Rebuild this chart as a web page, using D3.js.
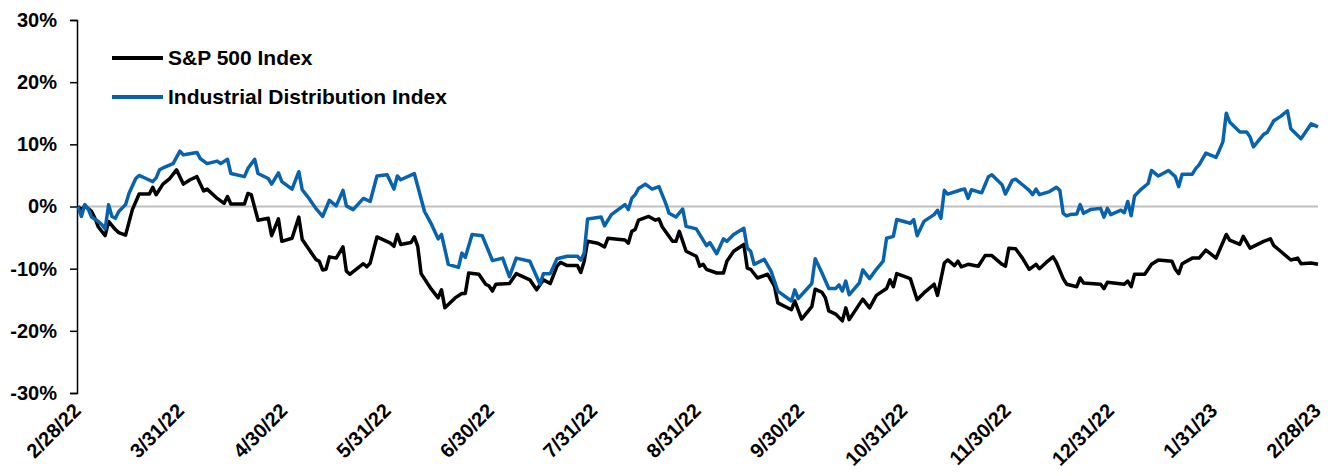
<!DOCTYPE html>
<html>
<head>
<meta charset="utf-8">
<script src="https://cdn.jsdelivr.net/npm/d3@7"></script>
<style>
  body { margin: 0; background: #fff; }
  svg text { font-family: "Liberation Sans", Arial, sans-serif; font-weight: bold; fill: #000; }
</style>
</head>
<body>
<svg id="chart"></svg>
<script>
// data: x = calendar days since 2/28/22, y = % change
const tickLabels = ["2/28/22", "3/31/22", "4/30/22", "5/31/22", "6/30/22", "7/31/22", "8/31/22",
  "9/30/22", "10/31/22", "11/30/22", "12/31/22", "1/31/23", "2/28/23"];
const yTicks = [-30, -20, -10, 0, 10, 20, 30];
const seriesNames = ["S&P 500 Index", "Industrial Distribution Index"];

const spDays = [0, 1, 2, 4, 5, 6, 8, 9, 11, 12, 14, 16, 18, 21, 22, 23, 25, 27, 29, 31, 33, 35, 37, 38, 41, 43, 44, 45, 49, 50,
  51, 53, 56, 57, 59, 60, 63, 65, 66, 70, 71, 72, 73, 74, 76, 78, 79, 80, 84, 85, 86, 88, 92, 93, 94, 95, 98, 99, 100, 101,
  104, 106, 107, 108, 111, 113, 114, 115, 118, 120, 121, 122, 123, 127, 129, 133, 135, 137, 139, 141, 142, 144, 147, 148, 149, 150, 153, 155, 156, 161,
  162, 163, 164, 165, 168, 170, 171, 172, 175, 176, 177, 179, 182, 183, 184, 185, 188, 190, 191, 193, 196, 197, 198, 200, 203, 205, 206, 210, 211, 213,
  216, 217, 219, 220, 221, 223, 225, 226, 227, 231, 233, 235, 238, 239, 240, 241, 245, 247, 249, 252, 253, 255, 256, 258, 259, 260, 262, 265, 267, 269,
  272, 273, 274, 276, 278, 280, 282, 283, 285, 287, 288, 290, 291, 294, 295, 296, 301, 302, 303, 308, 309, 310, 311, 314, 316, 318, 322, 323, 324, 325,
  328, 330, 332, 335, 338, 339, 342, 343, 345, 349, 351, 352, 354, 357, 359, 360, 363, 365];
const spValues = [0, -0.5, 0.1, -0.8, -1.9, -3.3, -4.7, -2.4, -3.7, -4.2, -4.6, -0.5, 2.0, 2.0, 3.1, 1.9, 3.6, 4.5, 5.9, 3.6, 4.3, 4.8, 2.5, 2.8, 1.3, 0.5, 1.6, 0.4, 0.4, 2.1,
  1.9, -2.2, -1.9, -4.7, -2.0, -5.6, -5.1, -1.7, -5.3, -8.5, -8.8, -10.2, -10.1, -8.1, -8.3, -6.5, -10.4, -10.9, -9.2, -9.7, -9.1, -4.9, -5.9, -6.4, -4.5, -6.1, -5.8, -4.9, -6.4, -10.8,
  -13.3, -14.7, -13.4, -16.3, -14.7, -14.0, -14.0, -10.7, -10.9, -12.5, -12.8, -13.6, -12.5, -12.4, -10.8, -11.8, -13.4, -11.8, -12.4, -9.6, -9.0, -9.5, -9.5, -10.6, -8.8, -5.6, -5.9, -6.5, -5.1, -5.4,
  -5.9, -4.0, -3.7, -2.2, -1.6, -2.2, -2.0, -3.3, -5.6, -5.6, -4.0, -7.2, -8.0, -9.6, -9.3, -10.1, -10.7, -10.7, -8.8, -7.2, -6.1, -9.9, -10.1, -11.5, -10.9, -12.8, -15.5, -16.6, -15.2, -18.1,
  -16.1, -13.3, -13.8, -14.7, -16.8, -17.3, -18.4, -16.3, -18.2, -14.9, -16.3, -14.3, -13.2, -11.8, -12.9, -10.8, -11.6, -15.0, -13.9, -12.5, -14.3, -9.1, -8.6, -9.5, -8.8, -9.7, -9.3, -9.6, -7.9, -7.9,
  -9.3, -9.6, -6.7, -6.8, -8.3, -10.1, -9.3, -10.0, -9.0, -8.1, -9.0, -11.6, -12.5, -12.9, -11.5, -12.3, -12.5, -13.2, -12.2, -12.5, -12.0, -12.9, -10.9, -10.9, -9.3, -8.6, -8.8, -10.1, -10.8, -9.2,
  -8.3, -8.3, -7.0, -8.3, -4.5, -5.4, -6.1, -4.8, -6.7, -5.6, -5.2, -6.3, -7.2, -8.6, -8.3, -9.2, -9.1, -9.3];

const indDays = [0, 1, 2, 3, 4, 6, 7, 8, 9, 10, 11, 12, 14, 15, 17, 18, 20, 22, 23, 24, 25, 28, 29, 30, 31, 32, 35, 36, 38, 41,
  42, 44, 45, 49, 50, 52, 53, 56, 57, 59, 60, 63, 65, 66, 68, 70, 72, 74, 76, 78, 79, 81, 84, 86, 88, 91, 93, 94, 95, 99,
  102, 104, 106, 107, 109, 112, 113, 114, 116, 119, 122, 125, 127, 129, 133, 136, 137, 139, 141, 144, 147, 148, 149, 150, 154, 155, 157, 161, 162, 163,
  164, 165, 167, 169, 171, 173, 174, 176, 178, 179, 182, 185, 186, 188, 190, 191, 193, 196, 197, 198, 199, 202, 204, 206, 210, 211, 212, 216, 217, 219,
  221, 223, 224, 225, 226, 227, 230, 231, 233, 235, 237, 238, 240, 241, 245, 246, 247, 249, 252, 253, 254, 255, 256, 260, 261, 262, 263, 266, 267, 268,
  269, 272, 273, 275, 276, 278, 280, 281, 282, 283, 286, 288, 289, 290, 291, 292, 294, 295, 296, 298, 301, 302, 303, 304, 307, 308, 309, 310, 311, 313,
  315, 316, 318, 321, 323, 324, 325, 328, 329, 330, 332, 335, 336, 337, 338, 339, 342, 344, 345, 346, 349, 350, 352, 354, 356, 357, 360, 363, 365];
const indValues = [0, -1.6, 0.3, -0.4, -1.7, -2.4, -2.9, -3.6, 0.3, -1.6, -1.9, -0.8, 0.3, 2.1, 4.5, 5.0, 4.5, 4.0, 4.6, 5.9, 6.2, 6.9, 7.9, 8.9, 8.3, 8.4, 8.7, 7.7, 6.9, 7.3,
  6.9, 7.6, 5.3, 4.8, 6.1, 7.6, 5.3, 4.5, 3.6, 5.4, 4.0, 2.8, 5.6, 2.7, 1.3, -0.3, -1.6, 1.0, 0.1, 2.6, 0.1, -0.5, 1.3, 0.8, 4.9, 5.1, 2.8, 4.9, 4.3, 5.3,
  -0.8, -2.8, -5.2, -4.5, -9.3, -9.8, -7.5, -8.2, -4.5, -4.7, -8.7, -8.3, -11.3, -8.3, -8.8, -12.5, -10.8, -10.8, -8.4, -8.0, -8.0, -8.6, -7.5, -2.0, -1.7, -3.1, -1.3, 0.3, -0.5, 1.3,
  1.9, 2.9, 3.6, 2.8, 3.2, 0.5, -1.1, -1.7, -0.4, -3.2, -3.6, -6.3, -5.8, -7.6, -5.2, -5.6, -4.5, -3.5, -6.7, -7.2, -9.3, -8.5, -10.4, -13.6, -15.2, -13.4, -14.8, -12.4, -8.4, -10.7,
  -13.2, -13.2, -12.6, -13.6, -12.0, -14.2, -12.3, -10.2, -11.6, -10.1, -8.8, -5.1, -4.8, -2.1, -2.7, -2.1, -4.7, -2.4, -1.3, -0.6, -1.9, 2.6, 2.0, 2.7, 2.8, 1.3, 2.7, 2.2, 3.5, 4.8,
  5.1, 3.5, 2.0, 4.2, 4.4, 3.5, 2.6, 1.9, 2.8, 1.9, 2.4, 3.1, 2.6, -1.1, -1.5, -1.3, -1.2, 0.3, -1.1, -0.5, -0.3, -1.7, -0.3, -1.3, -0.6, -1.0, 0.8, -1.5, 1.7, 2.8,
  3.7, 5.8, 4.9, 5.8, 4.8, 3.2, 5.2, 5.2, 6.1, 6.7, 8.6, 7.9, 9.1, 10.4, 15.0, 13.6, 12.0, 12.0, 11.2, 9.6, 11.6, 11.9, 13.8, 14.5, 15.4, 12.5, 10.9, 13.3, 12.8];

const width = 1328;
const height = 476;
const margin = { top: 20, right: 10, bottom: 83, left: 77 };

const svg = d3.select("#chart")
  .attr("width", width)
  .attr("height", height);

const xScale = d3.scaleLinear()
  .domain([0, 365])
  .range([margin.left + 1, width - margin.right]);

const yScale = d3.scaleLinear()
  .domain([-30, 30])
  .range([height - margin.bottom, margin.top]);

// zero line (the horizontal axis)
svg.append("line")
  .attr("x1", margin.left)
  .attr("x2", width - margin.right)
  .attr("y1", yScale(0))
  .attr("y2", yScale(0))
  .attr("stroke", "#bfbfbf")
  .attr("stroke-width", 2);

// y axis
const yAxis = svg.append("g")
  .attr("transform", "translate(" + margin.left + ",0)")
  .call(d3.axisLeft(yScale).tickValues(yTicks).tickSize(7).tickPadding(13).tickFormat(d => d + "%"));
yAxis.selectAll("path, line").attr("stroke", "#000").attr("stroke-width", 1.5);
yAxis.selectAll("text").attr("font-size", 20).attr("font-family", null).attr("fill", "#000");

// x labels, evenly spaced per month, rotated
const monthStep = 365 / (tickLabels.length - 1);
svg.append("g")
  .selectAll("text")
  .data(tickLabels)
  .enter().append("text")
  .attr("text-anchor", "end")
  .attr("font-size", 20)
  .attr("transform", (d, i) => "translate(" + (xScale(i * monthStep) + 4) + ",412) rotate(-45)")
  .text(d => d);

const line = d3.line()
  .x(d => xScale(d[0]))
  .y(d => yScale(d[1]))
  .curve(d3.curveLinear);

const spData = spDays.map((d, i) => [d, spValues[i]]);
const indData = indDays.map((d, i) => [d, indValues[i]]);

svg.append("path")
  .datum(spData)
  .attr("fill", "none")
  .attr("stroke", "#000")
  .attr("stroke-width", 3.5)
  .attr("stroke-linejoin", "round")
  .attr("d", line);

svg.append("path")
  .datum(indData)
  .attr("fill", "none")
  .attr("stroke", "#0863ac")
  .attr("stroke-width", 3.5)
  .attr("stroke-linejoin", "round")
  .attr("d", line);

// legend
const colors = ["#000", "#0863ac"];
const legend = svg.append("g")
  .selectAll("g")
  .data(seriesNames)
  .enter().append("g")
  .attr("transform", (d, i) => "translate(112," + (58 + i * 39) + ")");

legend.append("line")
  .attr("x1", 0)
  .attr("x2", 51)
  .attr("stroke", (d, i) => colors[i])
  .attr("stroke-width", 4);

legend.append("text")
  .attr("x", 56)
  .attr("y", 7)
  .attr("font-size", 21)
  .text(d => d);
</script>
</body>
</html>
